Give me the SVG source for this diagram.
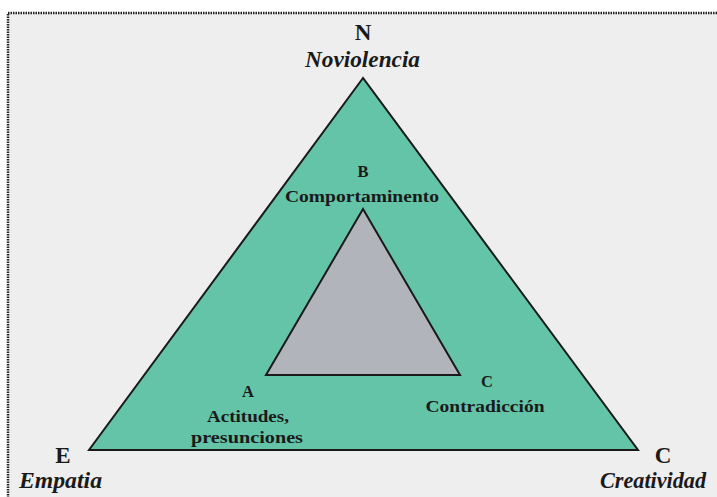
<svg xmlns="http://www.w3.org/2000/svg" width="717" height="497" viewBox="0 0 717 497">
<style>
.t{font-family:"Liberation Serif","Times New Roman",serif;font-weight:bold;fill:#1a1a1a;text-anchor:middle}
.big{font-size:23px}
.it{font-size:24px;font-style:italic;text-anchor:start}
.sm{font-size:16.5px}
.outer{fill:#64c4a7;stroke:#1a1a1a;stroke-width:2;stroke-linejoin:miter}
.inner{fill:#b2b4bc;stroke:#1a1a1a;stroke-width:2}
</style>
<rect x="0" y="0" width="717" height="497" fill="#ffffff"/>
<rect x="8" y="13" width="720" height="500" fill="#eeeeee" stroke="#222" stroke-width="2.5" stroke-dasharray="1.5 1"/>
<g id="outer-triangle">
<polygon class="outer" points="363,78 89,450 638,450"/>
</g>
<g id="inner-triangle">
<polygon class="inner" points="363,209 266,375 460,375"/>
</g>
<g id="node-N">
<text class="t big" x="363" y="40">N</text>
<text class="t it" x="305" y="67" textLength="115" lengthAdjust="spacingAndGlyphs">Noviolencia</text>
</g>
<g id="node-E">
<text class="t big" x="63" y="463">E</text>
<text class="t it" x="19" y="488" textLength="83" lengthAdjust="spacingAndGlyphs">Empatia</text>
</g>
<g id="node-C">
<text class="t big" x="663" y="463">C</text>
<text class="t it" x="600" y="488" textLength="106" lengthAdjust="spacingAndGlyphs">Creatividad</text>
</g>
<g id="node-B">
<text class="t sm" x="363" y="177">B</text>
<text class="t sm" x="362" y="202" textLength="154" lengthAdjust="spacingAndGlyphs">Comportaminento</text>
</g>
<g id="node-A">
<text class="t sm" x="248" y="397">A</text>
<text class="t sm" x="248" y="422" textLength="82" lengthAdjust="spacingAndGlyphs">Actitudes,</text>
<text class="t sm" x="247" y="443" textLength="112" lengthAdjust="spacingAndGlyphs">presunciones</text>
</g>
<g id="node-Cc">
<text class="t sm" x="487" y="387">C</text>
<text class="t sm" x="485" y="412" textLength="119" lengthAdjust="spacingAndGlyphs">Contradicción</text>
</g>
</svg>
